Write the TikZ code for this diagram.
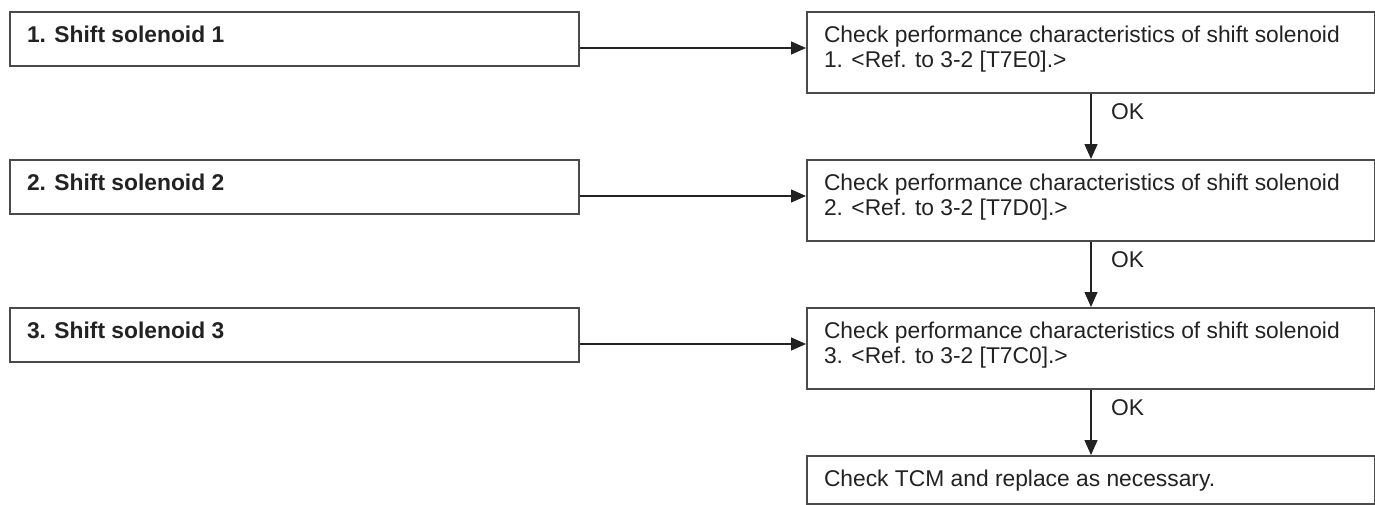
\documentclass[tikz,border=0pt]{standalone}
\usepackage{fontspec}
\setmainfont{Liberation Sans}
\usetikzlibrary{arrows.meta}

\definecolor{boxgray}{HTML}{4A4A4A}
\definecolor{inkgray}{HTML}{222222}

% fixed size text cell, text kept at the top
\newcommand{\cell}[3]{\parbox[c][#2][t]{#1}{\raggedright #3}}

\begin{document}
\begin{tikzpicture}[x=0.5pt, y=-0.5pt, font=\fontsize{11.4}{12.5}\selectfont, text=inkgray,
    lbox/.style={draw=boxgray, line width=1pt, inner xsep=8.5pt, inner ysep=7pt, anchor=north west, font=\fontsize{11.4}{12.5}\selectfont\bfseries},
    rbox/.style={draw=boxgray, line width=1pt, inner xsep=8.5pt, inner ysep=7pt, anchor=north west},
    arr/.style={-{Triangle[length=7.5pt, width=6.5pt]}, draw=inkgray, line width=0.65pt},
    oklabel/.style={anchor=base west}]
    \useasboundingbox (0,0) rectangle (1375,504);

    % left column
    \node[lbox] (l1) at (9, 11) {\cell{267.5pt}{13pt}{1. Shift solenoid 1}};
    \node[lbox] (l2) at (9, 159) {\cell{267.5pt}{13pt}{2. Shift solenoid 2}};
    \node[lbox] (l3) at (9, 307) {\cell{267.5pt}{13pt}{3. Shift solenoid 3}};

    % right column
    \node[rbox] (r1) at (806, 11) {\cell{267pt}{26.5pt}{Check performance characteristics of shift solenoid\\1. <Ref. to 3-2 [T7E0].>}};
    \node[rbox] (r2) at (806, 159) {\cell{267pt}{26.5pt}{Check performance characteristics of shift solenoid\\2. <Ref. to 3-2 [T7D0].>}};
    \node[rbox] (r3) at (806, 307) {\cell{267pt}{26.5pt}{Check performance characteristics of shift solenoid\\3. <Ref. to 3-2 [T7C0].>}};
    \node[rbox] (r4) at (806, 455) {\cell{267pt}{10pt}{Check TCM and replace as necessary.}};

    % left to right
    \coordinate (h1) at ([yshift=-4.5pt]l1.east);
    \coordinate (h2) at ([yshift=-4.5pt]l2.east);
    \coordinate (h3) at ([yshift=-4.5pt]l3.east);
    \draw[arr] (h1) -- (h1 -| r1.west);
    \draw[arr] (h2) -- (h2 -| r2.west);
    \draw[arr] (h3) -- (h3 -| r3.west);

    % down the right column
    \draw[arr] (r1.south) -- (r2.north);
    \draw[arr] (r2.south) -- (r3.north);
    \draw[arr] (r3.south) -- (r4.north);
    \node[oklabel] (ok1) at ([xshift=6.5pt, yshift=-12.5pt]r1.south) {OK};
    \node[oklabel] (ok2) at ([xshift=6.5pt, yshift=-12.5pt]r2.south) {OK};
    \node[oklabel] (ok3) at ([xshift=6.5pt, yshift=-12.5pt]r3.south) {OK};
\end{tikzpicture}
\end{document}
